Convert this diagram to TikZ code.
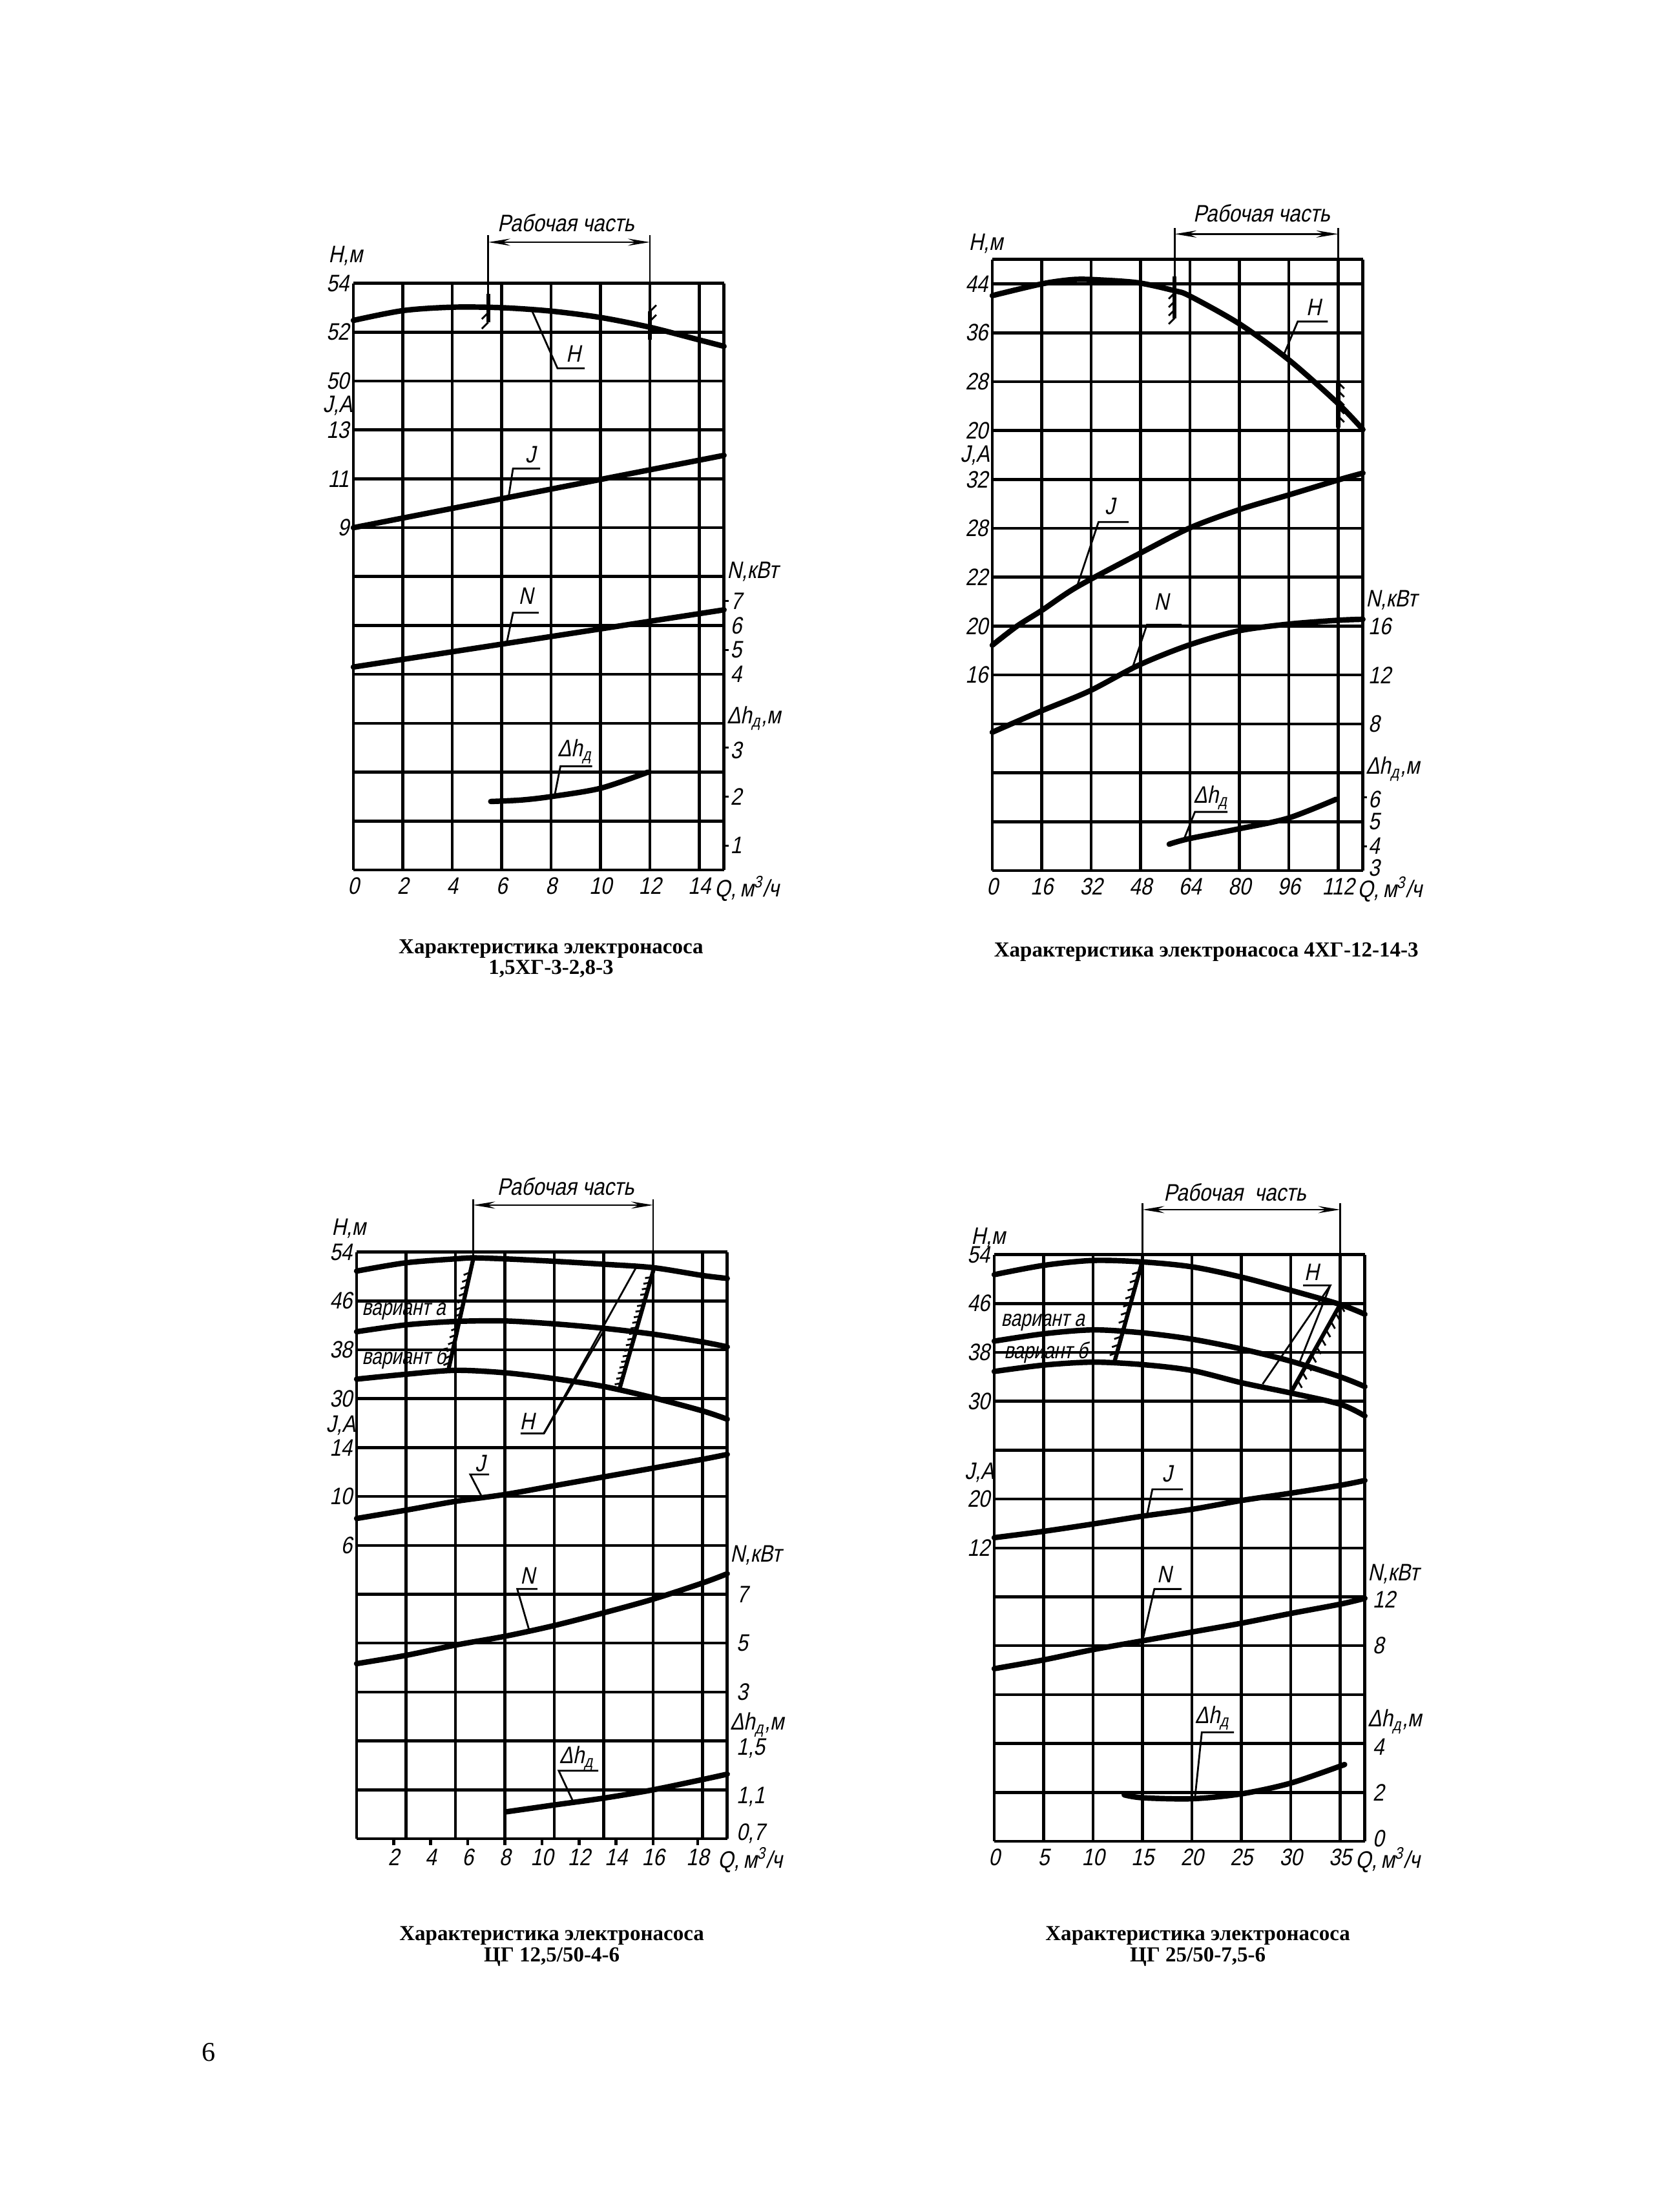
\documentclass[tikz,border=0pt]{standalone}
\usepackage{fontspec}
\setmainfont{Liberation Serif}
\newfontfamily\gost[FakeStretch=0.85,FakeSlant=0.21]{Liberation Sans}
\newfontfamily\gostn[FakeStretch=0.8,FakeSlant=0.21]{Liberation Sans}
\usetikzlibrary{arrows.meta,decorations.pathreplacing}
\tikzset{
  gridln/.style={line width=1.3pt},
  crv/.style={line width=2.4pt,line cap=round,line join=round},
  leader/.style={line width=0.8pt},
  dimln/.style={line width=0.8pt},
  dimarr/.style={line width=0.8pt,{Stealth[length=3.4mm,width=1.1mm,inset=1.2mm]}-{Stealth[length=3.4mm,width=1.1mm,inset=1.2mm]}},
  lbl/.style={font=\gost\fontsize{10.5}{12}\selectfont,inner sep=0pt},
  vlbl/.style={font=\gostn\fontsize{10}{12}\selectfont,inner sep=0pt,anchor=west},
  capt/.style={font=\bfseries\fontsize{9.4}{11}\selectfont,inner sep=0pt},
  hatch/.style n args={3}{line width=1.8pt,postaction={draw,line width=0.8pt,decorate,decoration={border,segment length=#1,amplitude=#2,angle=#3}}},
}
\begin{document}
\begin{tikzpicture}
\useasboundingbox[fill=white] (0,0) rectangle (25.99,34.25);

\begin{scope}[shift={(5.47,20.78)},x=0.765cm,y=0.757cm]
\foreach \i in {0,...,7} \draw[gridln] (\i,0) -- (\i,12);
\foreach \j in {0,...,12} \draw[gridln] (0,\j) -- (7.5,\j);
\draw[gridln] (7.5,0) -- (7.5,12);
\draw[crv] plot[smooth] coordinates {(0,11.24) (1,11.44) (2,11.51) (3,11.5) (4,11.43) (5,11.3) (6,11.1) (7,10.84) (7.5,10.71)};
\draw[crv] (0,7) -- (7.5,8.48);
\draw[crv] (0,4.15) -- (7.5,5.32);
\draw[crv] plot[smooth] coordinates {(2.78,1.4) (3.4,1.43) (4,1.5) (5,1.67) (5.96,2.0)};
\coordinate (a-dl) at (2.73,12.84);
\coordinate (a-dr) at (6,12.84);
\draw[dimln] (2.73,12.98) -- (2.73,11.23);
\draw[dimln] (6,12.98) -- (6,12);
\draw[dimarr] (a-dl) -- (a-dr);
\node[lbl] (a-rab) at (4.3,13.24) {Рабочая часть};
\draw[hatch={1.5mm}{1.4mm}{135}] (2.73,11.2) -- (2.73,11.78);
\draw[hatch={1.5mm}{1.4mm}{135}] (6,11.42) -- (6,10.84);
\coordinate (a-hp) at (3.6,11.47);
\coordinate (a-he) at (4.13,10.26);
\coordinate (a-hq) at (4.68,10.26);
\draw[leader] (a-hp) -- (a-he) -- (a-hq);
\node[lbl] (a-hl) at (4.45,10.56) {H};
\coordinate (a-jp) at (3.14,7.62);
\coordinate (a-je) at (3.23,8.21);
\coordinate (a-jq) at (3.78,8.21);
\draw[leader] (a-jp) -- (a-je) -- (a-jq);
\node[lbl] (a-jl) at (3.58,8.5) {J};
\coordinate (a-np) at (3.1,4.63);
\coordinate (a-ne) at (3.23,5.26);
\coordinate (a-nq) at (3.75,5.26);
\draw[leader] (a-np) -- (a-ne) -- (a-nq);
\node[lbl] (a-nl) at (3.49,5.6) {N};
\coordinate (a-dp) at (4.07,1.51);
\coordinate (a-de) at (4.19,2.12);
\coordinate (a-dq) at (4.83,2.12);
\draw[leader] (a-dp) -- (a-de) -- (a-dq);
\node[lbl] (a-dhl) at (4.48,2.42) {Δh\textsubscript{д}};
\node[lbl] (a-hm) at (-0.16,12.56) {H,м};
\node[lbl] (a-ja) at (-0.32,9.5) {J,A};
\foreach \y/\t [count=\k] in {12/54,11/52,10/50,9/13,8/11,7/9} \node[lbl,anchor=east] (a-l\k) at (-0.08,\y) {\t};
\node[lbl,anchor=west] (a-nk) at (7.55,6.1) {N,кВт};
\node[lbl,anchor=west] (a-dh) at (7.55,3.1) {Δh\textsubscript{д},м};
\foreach \y/\t [count=\k] in {5.5/7,5/6,4.5/5,4/4,2.45/3,1.5/2,0.5/1} \node[lbl,anchor=west] (a-r\k) at (7.62,\y) {\t};
\foreach \y in {5.5,4.5,2.5,1.5,0.5} \draw[leader] (7.5,\y) -- (7.6,\y);
\foreach \x/\t in {0/0,1/2,2/4,3/6,4/8,5/10,6/12,7/14} \node[lbl,anchor=north] (a-b\x) at (\x,-0.15) {\t};
\node[lbl,anchor=north west] (a-q) at (7.3,-0.12) {Q,\,м\textsuperscript{3}/ч};
\node[capt] (a-c1) at (4,-1.62) {Характеристика электронасоса};
\node[capt] (a-c2) at (4,-2.02) {1,5ХГ-3-2,8-3};
\end{scope}

\begin{scope}[shift={(15.36,20.77)},x=0.765cm,y=0.757cm]
\foreach \i in {0,...,7} \draw[gridln] (\i,0) -- (\i,12.5);
\foreach \j in {0,...,12} \draw[gridln] (0,\j) -- (7.5,\j);
\draw[gridln] (0,12.5) -- (7.5,12.5);
\draw[gridln] (7.5,0) -- (7.5,12.5);
\draw[crv] plot[smooth] coordinates {(0,11.76) (1,12.0) (1.65,12.09) (2.2,12.08) (2.97,12.02) (3.69,11.86) (4,11.75) (5.02,11.17) (6.02,10.43) (7,9.55) (7.5,9.02)};
\draw[crv] plot[smooth] coordinates {(0,4.61) (0.5,5.0) (1,5.32) (1.71,5.8) (2.97,6.48) (4,7.01) (5.02,7.39) (6.02,7.69) (7,7.99) (7.5,8.13)};
\draw[crv] plot[smooth] coordinates {(0,2.83) (0.98,3.26) (1.96,3.67) (2.96,4.2) (3.97,4.61) (4.97,4.9) (5.98,5.04) (7,5.12) (7.5,5.14)};
\draw[crv] plot[smooth] coordinates {(3.58,0.54) (3.97,0.65) (4.97,0.85) (5.98,1.07) (6.96,1.46)};
\coordinate (b-dl) at (3.69,13.02);
\coordinate (b-dr) at (7,13.02);
\draw[dimln] (3.69,13.14) -- (3.69,11.35);
\draw[dimln] (7,13.14) -- (7,12.5);
\draw[dimarr] (b-dl) -- (b-dr);
\node[lbl] (b-rab) at (5.45,13.45) {Рабочая часть};
\draw[hatch={1.3mm}{1.3mm}{135}] (3.69,11.3) -- (3.69,12.15);
\draw[hatch={1.3mm}{1.3mm}{45}] (7,9.98) -- (7,9.06);
\coordinate (b-hp) at (5.89,10.53);
\coordinate (b-he) at (6.18,11.23);
\coordinate (b-hq) at (6.79,11.23);
\draw[leader] (b-hp) -- (b-he) -- (b-hq);
\node[lbl] (b-hl) at (6.5,11.52) {H};
\coordinate (b-jp) at (1.71,5.8);
\coordinate (b-je) at (2.15,7.13);
\coordinate (b-jq) at (2.76,7.13);
\draw[leader] (b-jp) -- (b-je) -- (b-jq);
\node[lbl] (b-jl) at (2.38,7.45) {J};
\coordinate (b-np) at (2.83,4.13);
\coordinate (b-ne) at (3.13,5.03);
\coordinate (b-nq) at (3.83,5.03);
\draw[leader] (b-np) -- (b-ne) -- (b-nq);
\node[lbl] (b-nl) at (3.42,5.5) {N};
\coordinate (b-dp) at (3.87,0.62);
\coordinate (b-de) at (4.1,1.2);
\coordinate (b-dq) at (4.76,1.2);
\draw[leader] (b-dp) -- (b-de) -- (b-dq);
\node[lbl] (b-dhl) at (4.42,1.49) {Δh\textsubscript{д}};
\node[lbl] (b-hm) at (-0.13,12.83) {H,м};
\node[lbl] (b-ja) at (-0.35,8.49) {J,A};
\foreach \y/\t [count=\k] in {12/44,11/36,10/28,9/20,8/32,7/28,6/22,5/20,4/16} \node[lbl,anchor=east] (b-l\k) at (-0.08,\y) {\t};
\node[lbl,anchor=west] (b-nk) at (7.55,5.53) {N,кВт};
\node[lbl,anchor=west] (b-dh) at (7.55,2.08) {Δh\textsubscript{д},м};
\foreach \y/\t [count=\k] in {5/16,4/12,3/8,1.46/6,1/5,0.5/4,0.05/3} \node[lbl,anchor=west] (b-r\k) at (7.6,\y) {\t};
\foreach \y in {1.5,0.5} \draw[leader] (7.5,\y) -- (7.58,\y);
\foreach \x/\t in {0/0,1/16,2/32,3/48,4/64,5/80,6/96,7/112} \node[lbl,anchor=north] (b-b\x) at (\x,-0.15) {\t};
\node[lbl,anchor=north west] (b-q) at (7.38,-0.12) {Q,\,м\textsuperscript{3}/ч};
\node[capt] (b-c1) at (4.33,-1.67) {Характеристика электронасоса 4ХГ-12-14-3};
\end{scope}

\begin{scope}[shift={(5.52,5.78)},x=0.765cm,y=0.757cm]
\foreach \i in {0,...,7} \draw[gridln] (\i,0) -- (\i,12);
\foreach \j in {0,...,12} \draw[gridln] (0,\j) -- (7.5,\j);
\draw[gridln] (7.5,0) -- (7.5,12);
\draw[crv] plot[smooth] coordinates {(0,11.61) (1,11.78) (2,11.86) (2.36,11.88) (3,11.86) (4,11.81) (5,11.75) (6,11.68) (7,11.52) (7.5,11.46)};
\draw[crv] plot[smooth] coordinates {(0,10.37) (1,10.51) (2,10.58) (3,10.59) (4,10.53) (5,10.44) (6,10.32) (7,10.16) (7.5,10.06)};
\draw[crv] plot[smooth] coordinates {(0,9.4) (1,9.5) (2,9.58) (3,9.53) (4,9.41) (5,9.25) (6,9.02) (7,8.75) (7.5,8.58)};
\draw[crv] plot[smooth] coordinates {(0,6.55) (1,6.72) (2,6.9) (3,7.04) (4,7.22) (5,7.4) (6,7.58) (7,7.76) (7.5,7.86)};
\draw[crv] plot[smooth] coordinates {(0,3.58) (1,3.75) (2,3.96) (3,4.14) (4,4.36) (5,4.62) (6,4.9) (7,5.23) (7.5,5.42)};
\draw[crv] plot[smooth] coordinates {(3.03,0.55) (4,0.69) (5,0.83) (6,1.0) (7,1.21) (7.5,1.32)};
\coordinate (c-dl) at (2.36,12.96);
\coordinate (c-dr) at (6,12.96);
\draw[dimln] (2.36,13.08) -- (2.36,11.86);
\draw[dimln] (6,13.08) -- (6,12);
\draw[dimarr] (c-dl) -- (c-dr);
\node[lbl] (c-rab) at (4.23,13.34) {Рабочая часть};
\draw[hatch={1.1mm}{1.1mm}{125}] (1.86,9.6) -- (2.36,11.86);
\draw[hatch={0.9mm}{1.0mm}{115}] (5.32,9.2) -- (6.02,11.68);
\node[vlbl] (c-va) at (0.1,10.78) {вариант а};
\node[vlbl] (c-vb) at (0.1,9.83) {вариант б};
\coordinate (c-hs) at (3.32,8.29);
\coordinate (c-hv) at (3.79,8.29);
\coordinate (c-h1) at (5.67,11.71);
\coordinate (c-h2) at (5.03,10.44);
\coordinate (c-h3) at (4.42,9.37);
\draw[leader] (c-hs) -- (c-hv) -- (c-h1);
\draw[leader] (c-hv) -- (c-h2);
\draw[leader] (c-hv) -- (c-h3);
\node[lbl] (c-hl) at (3.45,8.54) {H};
\coordinate (c-jp) at (2.53,7.0);
\coordinate (c-je) at (2.3,7.45);
\coordinate (c-jq) at (2.68,7.45);
\draw[leader] (c-jp) -- (c-je) -- (c-jq);
\node[lbl] (c-jl) at (2.5,7.67) {J};
\coordinate (c-np) at (3.49,4.27);
\coordinate (c-ne) at (3.25,5.11);
\coordinate (c-nq) at (3.66,5.11);
\draw[leader] (c-np) -- (c-ne) -- (c-nq);
\node[lbl] (c-nl) at (3.46,5.38) {N};
\coordinate (c-dp) at (4.39,0.74);
\coordinate (c-de) at (4.09,1.39);
\coordinate (c-dq) at (4.89,1.39);
\draw[leader] (c-dp) -- (c-de) -- (c-dq);
\node[lbl] (c-dhl) at (4.45,1.64) {Δh\textsubscript{д}};
\node[lbl] (c-hm) at (-0.16,12.48) {H,м};
\node[lbl] (c-ja) at (-0.32,8.45) {J,A};
\foreach \y/\t [count=\k] in {12/54,11/46,10/38,9/30,8/14,7/10,6/6} \node[lbl,anchor=east] (c-l\k) at (-0.08,\y) {\t};
\node[lbl,anchor=west] (c-nk) at (7.55,5.8) {N,кВт};
\node[lbl,anchor=west] (c-dh) at (7.55,2.33) {Δh\textsubscript{д},м};
\foreach \y/\t [count=\k] in {5/7,4/5,3/3,1.85/{1,5},0.86/{1,1},0.1/{0,7}} \node[lbl,anchor=west] (c-r\k) at (7.68,\y) {\t};
\foreach \x/\t [count=\k] in {0.75/2,1.5/4,2.25/6,3/8,3.75/10,4.5/12,5.25/14,6/16,6.9/18} {
  \draw[gridln] (\x,0) -- (\x,-0.13);
  \node[lbl,anchor=north] (c-b\k) at (\x,-0.2) {\t};
}
\node[lbl,anchor=north west] (c-q) at (7.3,-0.17) {Q,\,м\textsuperscript{3}/ч};
\node[capt] (c-c1) at (3.95,-1.99) {Характеристика электронасоса};
\node[capt] (c-c2) at (3.95,-2.42) {ЦГ 12,5/50-4-6};
\end{scope}

\begin{scope}[shift={(15.39,5.74)},x=0.765cm,y=0.757cm]
\foreach \i in {0,...,7} \draw[gridln] (\i,0) -- (\i,12);
\foreach \j in {0,...,12} \draw[gridln] (0,\j) -- (7.5,\j);
\draw[gridln] (7.5,0) -- (7.5,12);
\draw[crv] plot[smooth] coordinates {(0,11.59) (1,11.78) (2,11.88) (3,11.85) (4,11.75) (5,11.54) (6,11.27) (7,10.98) (7.5,10.78)};
\draw[crv] plot[smooth] coordinates {(0,10.23) (1,10.38) (2,10.46) (3,10.4) (4,10.27) (5,10.07) (6,9.82) (7,9.5) (7.5,9.3)};
\draw[crv] plot[smooth] coordinates {(0,9.61) (1,9.74) (2,9.8) (3,9.75) (4,9.63) (5,9.38) (6,9.17) (7,8.94) (7.5,8.7)};
\draw[crv] plot[smooth] coordinates {(0,6.21) (1,6.34) (2,6.49) (3,6.65) (4,6.79) (5,6.97) (6,7.12) (7,7.28) (7.5,7.38)};
\draw[crv] plot[smooth] coordinates {(0,3.53) (1,3.71) (2,3.92) (3,4.1) (4,4.28) (5,4.46) (6,4.66) (7,4.85) (7.5,4.97)};
\draw[crv] plot[smooth] coordinates {(2.63,0.95) (3,0.89) (4,0.87) (5,0.97) (6,1.19) (7.09,1.57)};
\coordinate (d-dl) at (3,12.92);
\coordinate (d-dr) at (7,12.92);
\draw[dimln] (3,13.05) -- (3,12);
\draw[dimln] (7,13.05) -- (7,12);
\draw[dimarr] (d-dl) -- (d-dr);
\node[lbl] (d-rab) at (4.87,13.27) {Рабочая\ \ часть};
\draw[hatch={1.3mm}{1.2mm}{125}] (2.44,9.83) -- (2.99,11.84);
\draw[hatch={1.5mm}{1.3mm}{60}] (7,10.98) -- (6.01,9.19);
\node[vlbl] (d-va) at (0.13,10.61) {вариант а};
\node[vlbl] (d-vb) at (0.19,10.0) {вариант б};
\coordinate (d-hs) at (6.25,11.37);
\coordinate (d-hv) at (6.8,11.37);
\coordinate (d-h1) at (5.43,9.35);
\coordinate (d-h2) at (6.18,9.8);
\draw[leader] (d-hs) -- (d-hv) -- (d-h1);
\draw[leader] (d-hv) -- (d-h2);
\node[lbl] (d-hl) at (6.42,11.64) {H};
\coordinate (d-jp) at (3.09,6.66);
\coordinate (d-je) at (3.2,7.2);
\coordinate (d-jq) at (3.82,7.2);
\draw[leader] (d-jp) -- (d-je) -- (d-jq);
\node[lbl] (d-jl) at (3.5,7.51) {J};
\coordinate (d-np) at (3.0,4.1);
\coordinate (d-ne) at (3.24,5.16);
\coordinate (d-nq) at (3.79,5.16);
\draw[leader] (d-np) -- (d-ne) -- (d-nq);
\node[lbl] (d-nl) at (3.44,5.46) {N};
\coordinate (d-dp) at (4.06,0.87);
\coordinate (d-de) at (4.2,2.23);
\coordinate (d-dq) at (4.85,2.23);
\draw[leader] (d-dp) -- (d-de) -- (d-dq);
\node[lbl] (d-dhl) at (4.41,2.52) {Δh\textsubscript{д}};
\node[lbl] (d-hm) at (-0.12,12.35) {H,м};
\node[lbl] (d-ja) at (-0.3,7.54) {J,A};
\foreach \y/\t [count=\k] in {12/54,11/46,10/38,9/30,7/20,6/12} \node[lbl,anchor=east] (d-l\k) at (-0.08,\y) {\t};
\node[lbl,anchor=west] (d-nk) at (7.55,5.46) {N,кВт};
\node[lbl,anchor=west] (d-dh) at (7.55,2.45) {Δh\textsubscript{д},м};
\foreach \y/\t [count=\k] in {4.95/12,4/8,1.93/4,1/2,0.05/0} \node[lbl,anchor=west] (d-r\k) at (7.65,\y) {\t};
\foreach \x/\t in {0/0,1/5,2/10,3/15,4/20,5/25,6/30,7/35} \node[lbl,anchor=north] (d-b\x) at (\x,-0.15) {\t};
\node[lbl,anchor=north west] (d-q) at (7.3,-0.12) {Q,\,м\textsuperscript{3}/ч};
\node[capt] (d-c1) at (4.12,-1.93) {Характеристика электронасоса};
\node[capt] (d-c2) at (4.12,-2.37) {ЦГ 25/50-7,5-6};
\end{scope}

\node[font=\fontsize{12}{14}\selectfont,inner sep=0pt] (pg) at (3.23,2.47) {6};
\end{tikzpicture}
\end{document}
